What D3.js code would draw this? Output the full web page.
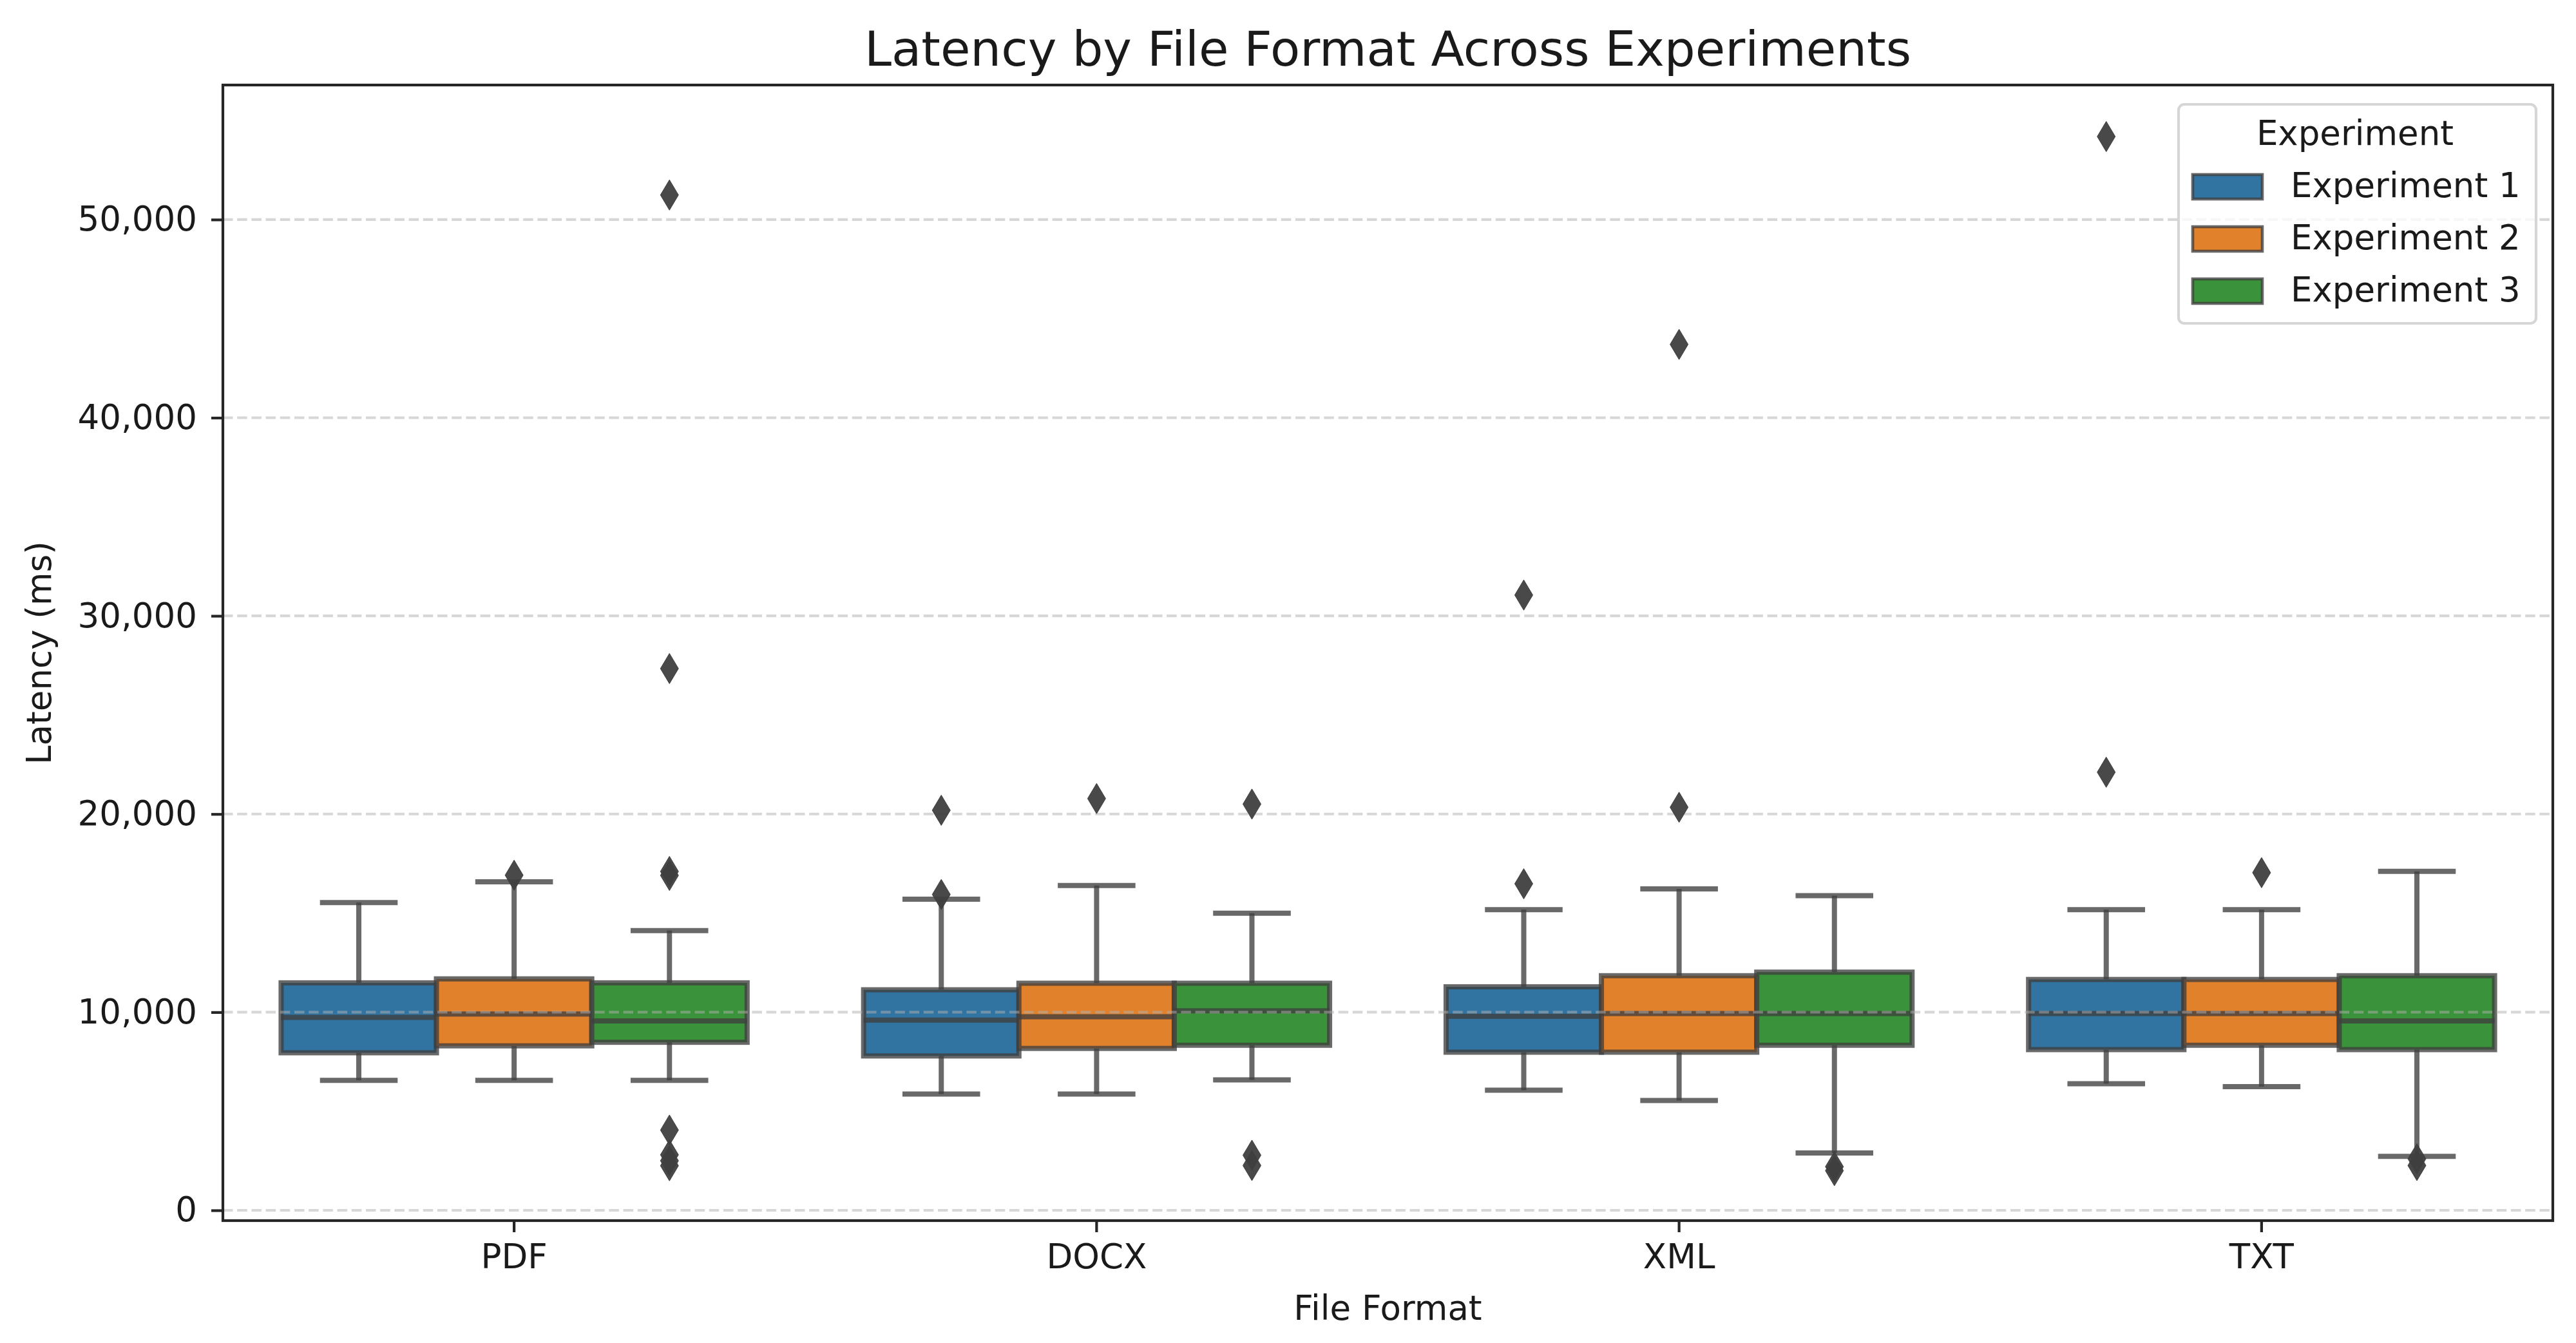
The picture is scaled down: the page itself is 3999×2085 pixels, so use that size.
<!DOCTYPE html>
<html>
<head>
<meta charset="utf-8">
<script src="https://cdn.jsdelivr.net/npm/d3@7/dist/d3.min.js"></script>
<style>
  html, body { margin: 0; padding: 0; background: #ffffff; }
  svg { display: block; font-family: "DejaVu Sans", sans-serif; }
</style>
</head>
<body>
<svg id="chart" width="3999" height="2085"></svg>
<script>
// ---------------- data ----------------
const formats = ["PDF", "DOCX", "XML", "TXT"];
const experiments = ["Experiment 1", "Experiment 2", "Experiment 3"];
const colors = ["#3274a1", "#e1812c", "#3a923a"];

// per experiment (rows) and per format (columns)
const whiskerLow = [
  [6560, 5870, 6060, 6390],
  [6560, 5870, 5540, 6240],
  [6560, 6580, 2890, 2720]
];
const q1 = [
  [7950, 7790, 7980, 8110],
  [8300, 8170, 7980, 8330],
  [8480, 8330, 8330, 8110]
];
const medians = [
  [9740, 9600, 9790, 9935],
  [9905, 9770, 9935, 9935],
  [9560, 10070, 9935, 9560]
];
const q3 = [
  [11480, 11130, 11280, 11650],
  [11680, 11460, 11840, 11650],
  [11480, 11460, 12020, 11840]
];
const whiskerHigh = [
  [15530, 15700, 15170, 15170],
  [16580, 16390, 16220, 15170],
  [14120, 14990, 15880, 17110]
];
const fliers = [
  [[], [15940, 20190], [16480, 31050], [22110, 54190]],
  [[16910], [20780], [20340, 43700], [17040]],
  [[51240, 27340, 17100, 16900, 4050, 2800, 2500, 2250], [20500, 2780, 2260], [2200, 2000], [2600, 2260]]
];
const yTicks = [0, 10000, 20000, 30000, 40000, 50000];

// ---------------- layout ----------------
const svg = d3.select("#chart");
const L = 346, R = 3963, T = 132, B = 1895;
const lineCol = "#3f3f3f";
const lineOp = 0.78;
const lw = 8;
const fontMain = 53;

const x = d3.scaleBand().domain(formats).range([L, R]).padding(0);
const hue = d3.scaleBand().domain(experiments).range([0, x.bandwidth() * 0.8]).padding(0);
const hueOffset = x.bandwidth() * 0.1;
const y = d3.scaleLinear().domain([-520, 56790]).range([B, T]);

// boxes
const gBoxes = svg.append("g");
experiments.forEach((exp, e) => {
  formats.forEach((fmt, f) => {
    const x0 = x(fmt) + hueOffset + hue(exp);
    const w = hue.bandwidth();
    const cx = x0 + w / 2;
    const g = gBoxes.append("g");
    // whiskers
    g.append("line").attr("x1", cx).attr("x2", cx)
      .attr("y1", y(q3[e][f])).attr("y2", y(whiskerHigh[e][f]))
      .attr("stroke", lineCol).attr("stroke-opacity", lineOp).attr("stroke-width", lw);
    g.append("line").attr("x1", cx).attr("x2", cx)
      .attr("y1", y(q1[e][f])).attr("y2", y(whiskerLow[e][f]))
      .attr("stroke", lineCol).attr("stroke-opacity", lineOp).attr("stroke-width", lw);
    // caps
    [whiskerHigh[e][f], whiskerLow[e][f]].forEach(v => {
      g.append("line").attr("x1", cx - w / 4).attr("x2", cx + w / 4)
        .attr("y1", y(v)).attr("y2", y(v))
        .attr("stroke", lineCol).attr("stroke-opacity", lineOp).attr("stroke-width", lw);
    });
    // box
    g.append("rect").attr("x", x0).attr("width", w)
      .attr("y", y(q3[e][f])).attr("height", y(q1[e][f]) - y(q3[e][f]))
      .attr("fill", colors[e]);
    g.append("rect").attr("x", x0).attr("width", w)
      .attr("y", y(q3[e][f])).attr("height", y(q1[e][f]) - y(q3[e][f]))
      .attr("fill", "none")
      .attr("stroke", lineCol).attr("stroke-opacity", lineOp).attr("stroke-width", lw);
    // median
    g.append("line").attr("x1", x0).attr("x2", x0 + w)
      .attr("y1", y(medians[e][f])).attr("y2", y(medians[e][f]))
      .attr("stroke", lineCol).attr("stroke-opacity", lineOp).attr("stroke-width", lw);
  });
});

// grid (drawn above boxes, semi-transparent)
svg.append("g").selectAll("line").data(yTicks).join("line")
  .attr("x1", L).attr("x2", R)
  .attr("y1", d => y(d)).attr("y2", d => y(d))
  .attr("stroke", "#b0b0b0").attr("stroke-opacity", 0.5)
  .attr("stroke-width", 4.2).attr("stroke-dasharray", "15.5,6.7");

// fliers (thin diamonds)
const fw = 28, fh = 47;
const diamond = `M0,${-fh / 2}L${fw / 2},0L0,${fh / 2}L${-fw / 2},0Z`;
const gFl = svg.append("g");
experiments.forEach((exp, e) => {
  formats.forEach((fmt, f) => {
    const cx = x(fmt) + hueOffset + hue(exp) + hue.bandwidth() / 2;
    gFl.selectAll(null).data(fliers[e][f]).join("path")
      .attr("d", diamond)
      .attr("transform", d => `translate(${cx},${y(d)})`)
      .attr("fill", lineCol).attr("fill-opacity", 0.95)
      .attr("stroke", lineCol).attr("stroke-width", 1);
  });
});

// axes
const yAxis = d3.axisLeft(y).tickValues(yTicks).tickFormat(d3.format(",")).tickSize(18).tickPadding(22);
const gy = svg.append("g").attr("transform", `translate(${L},0)`).call(yAxis);
gy.select(".domain").remove();
gy.selectAll(".tick line").attr("stroke", "#262626").attr("stroke-width", 4.2);
gy.selectAll(".tick text").attr("font-size", fontMain).attr("fill", "#1a1a1a")
  .attr("font-family", "DejaVu Sans");

const xAxis = d3.axisBottom(x).tickSize(18).tickPadding(18);
const gx = svg.append("g").attr("transform", `translate(0,${B})`).call(xAxis);
gx.select(".domain").remove();
gx.selectAll(".tick line").attr("stroke", "#262626").attr("stroke-width", 4.2);
gx.selectAll(".tick text").attr("font-size", fontMain).attr("fill", "#1a1a1a")
  .attr("font-family", "DejaVu Sans");

// frame
svg.append("rect").attr("x", L).attr("y", T).attr("width", R - L).attr("height", B - T)
  .attr("fill", "none").attr("stroke", "#262626").attr("stroke-width", 4.2);

// titles
svg.append("text").attr("x", (L + R) / 2).attr("y", 102).attr("text-anchor", "middle")
  .attr("font-size", 75.5).attr("fill", "#1a1a1a").text("Latency by File Format Across Experiments");
svg.append("text").attr("x", (L + R) / 2).attr("y", 2049).attr("text-anchor", "middle")
  .attr("font-size", fontMain).attr("fill", "#1a1a1a").text("File Format");
svg.append("text").attr("transform", `translate(79,${(T + B) / 2}) rotate(-90)`)
  .attr("text-anchor", "middle").attr("font-size", fontMain).attr("fill", "#1a1a1a").text("Latency (ms)");

// legend
const lg = svg.append("g");
lg.append("rect").attr("x", 3382).attr("y", 162).attr("width", 555).attr("height", 340)
  .attr("rx", 9).attr("fill", "#ffffff").attr("fill-opacity", 0.8)
  .attr("stroke", "#d6d6d6").attr("stroke-width", 4.2);
lg.append("text").attr("x", 3656).attr("y", 225).attr("text-anchor", "middle")
  .attr("font-size", fontMain).attr("fill", "#1a1a1a").text("Experiment");
experiments.forEach((exp, i) => {
  const cy = 290 + i * 81;
  lg.append("rect").attr("x", 3404).attr("y", cy - 19).attr("width", 108).attr("height", 38)
    .attr("fill", colors[i]).attr("stroke", lineCol).attr("stroke-opacity", lineOp).attr("stroke-width", 4.6);
  lg.append("text").attr("x", 3556).attr("y", cy + 16)
    .attr("font-size", fontMain).attr("fill", "#1a1a1a").text(exp);
});
</script>
</body>
</html>
